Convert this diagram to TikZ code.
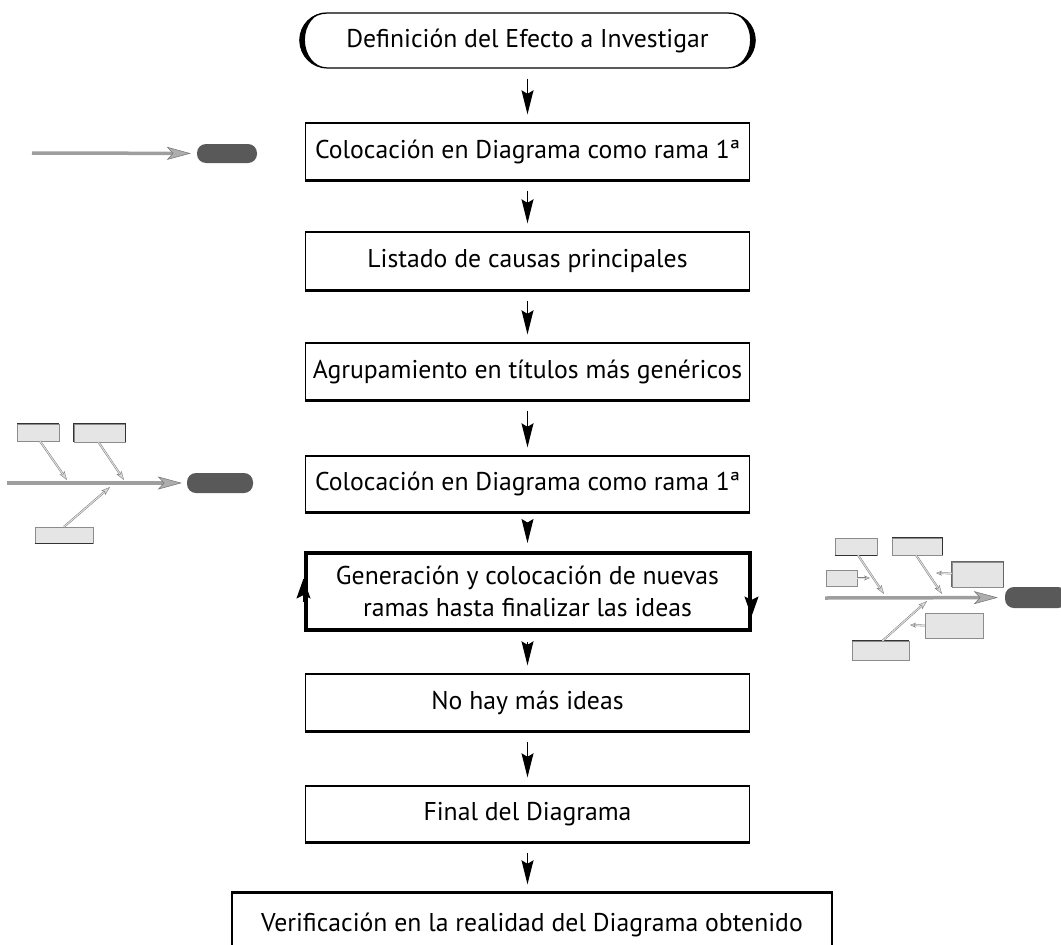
\documentclass[tikz,border=0pt]{standalone}
\usepackage{fontspec}
\setmainfont{PT Sans}
\usetikzlibrary{arrows.meta}
\begin{document}
\begin{tikzpicture}[x=1pt,y=-1pt,
  mainfs/.style={font=\fontsize{25.7}{32}\selectfont},
  stepbox/.style={draw, line width=1.4pt, minimum width=444pt, inner sep=0pt, fill=white, mainfs, align=center},
  termbox/.style={draw, line width=1.2pt, rounded corners=27.5pt, minimum width=455pt, minimum height=55pt, inner sep=0pt, mainfs},
  flow/.style={line width=1.2pt, -{Stealth[length=24pt,width=12pt,inset=3.5pt]}, shorten <=10pt, shorten >=8pt},
  loopflow/.style={line width=1.2pt, -{Stealth[length=20pt,width=14pt,inset=3.5pt]}},
  pill/.style={fill=black!65, rounded corners=9pt, inner sep=0pt},
  lbox/.style={fill=black!10, draw=black!45, line width=0.4pt, inner sep=0pt},
  spine/.style={draw=black!38, line width=3.5pt, -{Stealth[length=24pt,width=13pt,inset=6pt,fill=black!32,color=black!55,line width=0.5pt]}},
  branch/.style={draw=black!50, double=black!12, double distance=1pt, line width=0.5pt, -{Stealth[length=9pt,width=6pt,inset=2pt,fill=black!15,color=black!50,line width=0.4pt]}},
  twig/.style={draw=black!50, double=black!12, double distance=1pt, line width=0.4pt, -{Stealth[length=6pt,width=5pt,inset=2pt,fill=black!15,color=black!50,line width=0.4pt]}}
]
\path[use as bounding box, clip] (0,0) rectangle (1061,945);

% ---------- main flow ----------
\node[termbox] (t1) at (527.5,40.5) {Definición del Efecto a Investigar};
\fill ([xshift=27.5pt]t1.north west) arc[start angle=90,end angle=270,x radius=27.5pt,y radius=27.5pt]
      arc[start angle=270,end angle=90,x radius=22pt,y radius=27.5pt] -- cycle;
\fill ([xshift=-27.5pt]t1.north east) arc[start angle=90,end angle=-90,x radius=27.5pt,y radius=27.5pt]
      arc[start angle=-90,end angle=90,x radius=22pt,y radius=27.5pt] -- cycle;

\node[stepbox, minimum height=57pt] (b2) at (527.5,151.5) {Colocación en Diagrama como rama 1ª};
\node[stepbox, minimum height=58pt] (b3) at (527.5,261) {Listado de causas principales};
\node[stepbox, minimum height=57pt] (b4) at (527.5,371.5) {Agrupamiento en títulos más genéricos};
\node[stepbox, minimum height=56pt] (b5) at (527.5,484) {Colocación en Diagrama como rama 1ª};
\node[stepbox, line width=4pt, minimum height=77pt] (b6) at (527.5,591.5) {Generación y colocación de nuevas\\ramas hasta finalizar las ideas};
\node[stepbox, minimum height=57pt] (b7) at (527.5,702.5) {No hay más ideas};
\node[stepbox, minimum height=56pt] (b8) at (527.5,814) {Final del Diagrama};
\node[stepbox, minimum width=600pt, minimum height=64pt] (b9) at (532,925) {Verificación en la realidad del Diagrama obtenido};

\foreach \b in {b2,b3,b4,b5,b7,b8}
  \draw[line width=3.5pt] (\b.south west) -- (\b.south east);
\draw[line width=3pt] (b9.north west) -- (b9.north east);

\draw[flow] (t1) -- (b2);
\draw[flow] (b2) -- (b3);
\draw[flow] (b3) -- (b4);
\draw[flow] (b4) -- (b5);
\draw[flow] (b5) -- (b6);
\draw[flow] (b6) -- (b7);
\draw[flow] (b7) -- (b8);
\draw[flow] (b8) -- (b8.south |- b9.north);

% loop marks on box 6
\draw[loopflow] ([yshift=-10pt]b6.west) -- ([yshift=13pt]b6.west);
\draw[loopflow] ([yshift=5pt]b6.east) -- ([yshift=-25pt]b6.east);

% ---------- fishbone 1 ----------
\coordinate (f1s) at (32,153);
\node[pill, minimum width=60pt, minimum height=19pt] (f1p) at (227,153.5) {};
\draw[spine, shorten >=6pt] (f1s) -- (f1p);

% ---------- fishbone 2 ----------
\coordinate (f2s) at (7,483);
\node[pill, minimum width=66pt, minimum height=20pt] (f2p) at (220,483) {};
\draw[spine, shorten >=5pt] (f2s) -- (f2p);
\node[lbox, minimum width=42pt, minimum height=17pt] (f2a) at (38,432.5) {};
\node[lbox, minimum width=51pt, minimum height=18pt] (f2b) at (99.5,433) {};
\node[lbox, minimum width=58pt, minimum height=16pt] (f2c) at (64,535) {};
\draw[black!80, line width=1pt] (f2a.north west) -- (f2a.north east);
\draw[black!80, line width=1pt] (f2b.south west) -- (f2b.north west) -- (f2b.north east) -- (f2b.south east);
\draw[black!80, line width=1pt] (f2c.south west) -- (f2c.south east);
\coordinate (f2a2) at (67,480);
\coordinate (f2b2) at (124,480);
\coordinate (f2c2) at (110,487);
\draw[branch] ([xshift=2pt]f2a.south) -- (f2a2);
\draw[branch] ([xshift=-1pt]f2b.south) -- (f2b2);
\draw[branch] (f2c.north) -- (f2c2);

% ---------- fishbone 3 ----------
\coordinate (f3s) at (825,598);
\node[pill, minimum width=62pt, minimum height=21pt] (f3p) at (1036,597.5) {};
\draw[spine, shorten >=7pt] (f3s) -- (f3p);
\node[lbox, minimum width=42pt, minimum height=17pt] (f3d) at (856,546.5) {};
\node[lbox, minimum width=50pt, minimum height=17pt] (f3e) at (917,546.5) {};
\node[lbox, minimum width=31pt, minimum height=16pt] (f3f) at (841.5,578) {};
\node[lbox, minimum width=51pt, minimum height=25pt] (f3g) at (977.5,574.5) {};
\node[lbox, minimum width=58pt, minimum height=25pt] (f3h) at (954,625.5) {};
\node[lbox, minimum width=57pt, minimum height=19pt] (f3i) at (880.5,650.5) {};
\draw[black!80, line width=1pt] (f3d.south west) -- (f3d.south east);
\draw[black!80, line width=1pt] (f3e.north west) -- (f3e.north east) -- (f3e.south east);
\draw[black!80, line width=1pt] (f3i.north west) -- (f3i.north east);
\draw[black!60, line width=0.8pt] (f3g.south west) -- (f3g.north west) -- (f3g.north east) -- (f3g.south east);
\coordinate (f3d2) at (884,594);
\coordinate (f3e2) at (942,594);
\coordinate (f3i2) at (927,601);
\coordinate (f3f2) at (870,578);
\coordinate (f3g2) at (936,573);
\coordinate (f3h2) at (910,625);
\draw[branch] ([xshift=2pt]f3d.south) -- (f3d2);
\draw[branch] ([xshift=-1pt]f3e.south) -- (f3e2);
\draw[branch] ([xshift=2pt]f3i.north) -- (f3i2);
\draw[twig] (f3f.east) -- (f3f2);
\draw[twig] ([yshift=1pt]f3g.west) -- (f3g2);
\draw[twig] (f3h.west) -- (f3h2);
\end{tikzpicture}
\end{document}
